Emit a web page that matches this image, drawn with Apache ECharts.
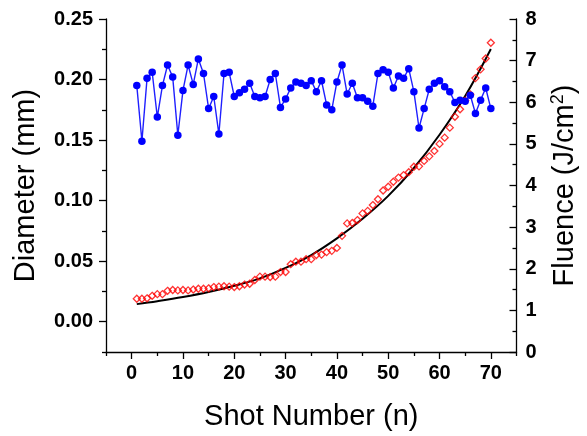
<!DOCTYPE html>
<html>
<head>
<meta charset="utf-8">
<script src="https://cdn.jsdelivr.net/npm/echarts@6/dist/echarts.min.js"></script>
<style>
html,body{margin:0;padding:0;background:#fff;}
#c{width:587px;height:436px;}
</style>
</head>
<body>
<div id="c"></div>
<script>
// Shot numbers
const shots = [1,2,3,4,5,6,7,8,9,10,11,12,13,14,15,16,17,18,19,20,21,22,23,24,25,26,27,28,29,30,31,32,33,34,35,36,37,38,39,40,41,42,43,44,45,46,47,48,49,50,51,52,53,54,55,56,57,58,59,60,61,62,63,64,65,66,67,68,69,70];
// Diameter (mm), left axis
const diameter = [0.195,0.149,0.201,0.206,0.169,0.195,0.212,0.202,0.154,0.191,0.212,0.196,0.217,0.205,0.176,0.186,0.155,0.205,0.206,0.186,0.189,0.192,0.197,0.186,0.185,0.186,0.200,0.205,0.177,0.184,0.193,0.198,0.197,0.195,0.199,0.190,0.199,0.179,0.175,0.198,0.212,0.188,0.197,0.185,0.185,0.182,0.178,0.205,0.208,0.206,0.193,0.203,0.201,0.209,0.190,0.160,0.176,0.192,0.197,0.199,0.194,0.190,0.181,0.183,0.182,0.187,0.172,0.183,0.193,0.176];
// Fluence (J/cm2), right axis
const fluence = [1.28,1.28,1.29,1.35,1.39,1.39,1.47,1.49,1.48,1.49,1.48,1.50,1.52,1.52,1.53,1.56,1.57,1.58,1.57,1.56,1.58,1.62,1.64,1.73,1.81,1.81,1.80,1.81,1.92,1.92,2.11,2.17,2.17,2.23,2.23,2.33,2.34,2.40,2.43,2.50,2.79,3.09,3.10,3.17,3.33,3.39,3.53,3.67,3.88,3.97,4.09,4.19,4.25,4.32,4.45,4.46,4.59,4.70,4.83,5.00,5.15,5.39,5.65,5.83,6.04,6.19,6.58,6.79,7.05,7.43];
// Fit curve
const fitShots = [1,5,10,15,20,25,30,35,40,45,50,55,60,65,70];
const fitValues = [1.15,1.22,1.32,1.44,1.59,1.77,2.02,2.33,2.73,3.20,3.75,4.42,5.22,6.15,7.28];
// Tick values
const xMajor = [0,10,20,30,40,50,60,70];
const xMinor = [-5,5,15,25,35,45,55,65,75];
const dMajor = [0,0.05,0.10,0.15,0.20,0.25];
const dMinor = [-0.025,0.025,0.075,0.125,0.175,0.225];

const FONT = '"Liberation Sans", Arial, sans-serif';
function lab(extra) { return Object.assign({fontFamily: FONT, fontWeight: 'bold', fontSize: 20, color: '#000'}, extra); }
function nameStyle(extra) { return Object.assign({fontFamily: FONT, fontSize: 29, color: '#000'}, extra); }
function axLine() { return {show: true, onZero: false, lineStyle: {color: '#000', width: 1.3}}; }
function tick(len, extra) { return Object.assign({show: true, length: len, lineStyle: {color: '#000', width: 1.3}}, extra); }

const chart = echarts.init(document.getElementById('c'), null, {renderer: 'canvas'});
chart.setOption({
  animation: false,
  backgroundColor: '#fff',
  grid: {left: 106, right: 62, top: 19, bottom: 79, containLabel: false},
  xAxis: [
    {
      type: 'value', position: 'bottom', min: -5, max: 75,
      name: 'Shot Number (n)', nameLocation: 'middle', nameGap: 50, nameTextStyle: nameStyle(),
      axisLine: axLine(),
      axisTick: tick(7, {customValues: xMajor}),
      axisLabel: lab({customValues: xMajor, margin: 11}),
      splitLine: {show: false}
    },
    {
      type: 'value', position: 'bottom', min: -5, max: 75,
      axisLine: {show: false, onZero: false},
      axisTick: tick(4, {customValues: xMinor}),
      axisLabel: {show: false},
      splitLine: {show: false}
    }
  ],
  yAxis: [
    {
      type: 'value', position: 'left', min: -0.025, max: 0.25,
      name: 'Diameter (mm)', nameLocation: 'middle', nameGap: 66, nameRotate: 90, nameTextStyle: nameStyle(),
      axisLine: axLine(),
      axisTick: tick(7, {customValues: dMajor}),
      axisLabel: lab({customValues: dMajor, margin: 13, formatter: v => v.toFixed(2)}),
      splitLine: {show: false}
    },
    {
      type: 'value', position: 'right', min: 0, max: 8, interval: 1,
      name: 'Fluence (J/cm{sup|2})', nameLocation: 'middle', nameGap: 33, nameRotate: 90,
      nameTextStyle: nameStyle({rich: {sup: {fontFamily: FONT, fontSize: 18, color: '#000', verticalAlign: 'top', padding: [0,0,12,0]}}}),
      axisLine: axLine(),
      axisTick: tick(7, {inside: true}),
      minorTick: {show: true, splitNumber: 2, length: 4, lineStyle: {color: '#000', width: 1.3}},
      axisLabel: lab({margin: 9}),
      splitLine: {show: false}, minorSplitLine: {show: false}
    },
    {
      type: 'value', position: 'left', min: -0.025, max: 0.25,
      axisLine: {show: false, onZero: false},
      axisTick: tick(4, {customValues: dMinor}),
      axisLabel: {show: false},
      splitLine: {show: false}
    }
  ],
  series: [
    {
      type: 'line', name: 'Fit', xAxisIndex: 0, yAxisIndex: 1,
      data: fitShots.map((s, i) => [s, fitValues[i]]),
      smooth: 0.4, showSymbol: false, symbol: 'none',
      lineStyle: {color: '#000', width: 2}, z: 3
    },
    {
      type: 'scatter', name: 'Fluence', xAxisIndex: 0, yAxisIndex: 1,
      data: shots.map((s, i) => [s, fluence[i]]),
      symbol: 'diamond', symbolSize: [7, 7],
      itemStyle: {color: 'rgba(255,255,255,0)', borderColor: '#ff0000', borderWidth: 1.3}, z: 4
    },
    {
      type: 'line', name: 'Diameter', xAxisIndex: 0, yAxisIndex: 0,
      data: shots.map((s, i) => [s, diameter[i]]),
      symbol: 'circle', symbolSize: 7.5, showSymbol: true,
      lineStyle: {color: '#1f1fff', width: 1.4},
      itemStyle: {color: '#0000ff', borderWidth: 0}, z: 5
    }
  ]
});
</script>
</body>
</html>
